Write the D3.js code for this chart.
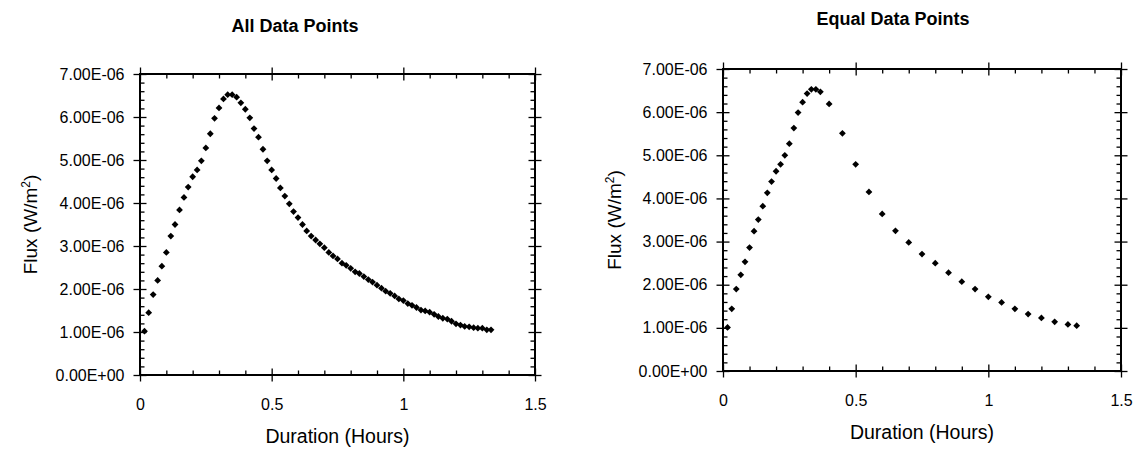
<!DOCTYPE html>
<html><head><meta charset="utf-8">
<script src="https://cdn.jsdelivr.net/npm/d3@7"></script>
<style>
body{margin:0;background:#fff}
svg{display:block}
text{font-family:"Liberation Sans",Arial,sans-serif;fill:#000}
</style>
</head><body>
<svg id="c" width="1142" height="452"></svg>
<script>
// Duration in hours, flux in units of 1E-06 W/m2
const allDuration = [0.017,0.033,0.050,0.067,0.083,0.100,0.117,0.133,0.150,0.167,0.183,0.200,0.217,0.233,0.250,0.267,0.283,0.300,0.317,0.333,0.350,0.367,0.383,0.400,0.417,0.433,0.450,0.467,0.483,0.500,0.517,0.533,0.550,0.567,0.583,0.600,0.617,0.633,0.650,0.667,0.683,0.700,0.717,0.733,0.750,0.767,0.783,0.800,0.817,0.833,0.850,0.867,0.883,0.900,0.917,0.933,0.950,0.967,0.983,1.000,1.017,1.033,1.050,1.067,1.083,1.100,1.117,1.133,1.150,1.167,1.183,1.200,1.217,1.233,1.250,1.267,1.283,1.300,1.317,1.333];
const allFlux = [1.02,1.45,1.87,2.20,2.53,2.85,3.23,3.50,3.84,4.13,4.37,4.61,4.77,4.98,5.28,5.61,5.97,6.21,6.42,6.52,6.52,6.46,6.33,6.18,5.98,5.73,5.53,5.25,4.98,4.77,4.57,4.35,4.16,3.98,3.80,3.66,3.50,3.35,3.23,3.14,3.05,2.96,2.85,2.77,2.70,2.60,2.55,2.48,2.40,2.36,2.29,2.22,2.16,2.09,2.02,1.95,1.90,1.84,1.77,1.73,1.66,1.62,1.57,1.51,1.49,1.46,1.41,1.36,1.32,1.30,1.25,1.19,1.16,1.13,1.12,1.10,1.09,1.09,1.05,1.05];
const equalDuration = [0.017,0.033,0.050,0.067,0.083,0.100,0.117,0.133,0.150,0.167,0.183,0.200,0.217,0.233,0.250,0.267,0.283,0.300,0.317,0.333,0.350,0.367,0.400,0.450,0.500,0.550,0.600,0.650,0.700,0.750,0.800,0.850,0.900,0.950,1.000,1.050,1.100,1.150,1.200,1.250,1.300,1.333];
const equalFlux = [1.01,1.44,1.90,2.23,2.53,2.86,3.24,3.51,3.82,4.13,4.39,4.63,4.79,5.00,5.27,5.63,5.99,6.23,6.43,6.53,6.53,6.47,6.19,5.51,4.79,4.15,3.64,3.25,2.98,2.71,2.50,2.28,2.07,1.90,1.72,1.59,1.44,1.32,1.23,1.14,1.08,1.05];

const xMajor = [0,0.5,1,1.5];
const xTickLabels = ["0","0.5","1","1.5"];
const xMinor = [0.1,0.2,0.3,0.4,0.6,0.7,0.8,0.9,1.1,1.2,1.3,1.4];
const yMajor = [0,1,2,3,4,5,6,7];
const yTickLabels = ["0.00E+00","1.00E-06","2.00E-06","3.00E-06","4.00E-06","5.00E-06","6.00E-06","7.00E-06"];
const yMinor = [0.2,0.4,0.6,0.8,1.2,1.4,1.6,1.8,2.2,2.4,2.6,2.8,3.2,3.4,3.6,3.8,4.2,4.4,4.6,4.8,5.2,5.4,5.6,5.8,6.2,6.4,6.6,6.8];
const titles = ["All Data Points","Equal Data Points"];
const xTitle = "Duration (Hours)";

const svg = d3.select("#c");

function panel(cfg){
  const g = svg.append("g");
  const x = d3.scaleLinear().domain([0,1.5]).range([cfg.x0,cfg.x1]);
  const y = d3.scaleLinear().domain([0,7]).range([cfg.y1,cfg.y0]);
  const MAJ=6.5, MIN=4.5;
  const style = sel => { sel.attr("font-size",null).attr("font-family",null);
    sel.selectAll("line").attr("stroke","#000").attr("stroke-width",1.3);
    sel.select(".domain").remove();
    sel.selectAll("text").style("font-size","16px").attr("fill","#000"); };
  // bottom: outer major + labels
  g.append("g").attr("transform",`translate(0,${cfg.y1})`)
    .call(d3.axisBottom(x).tickValues(xMajor).tickFormat((d,i)=>xTickLabels[i]).tickSize(MAJ).tickPadding(17.5)).call(style);
  g.append("g").attr("transform",`translate(0,${cfg.y1})`).call(d3.axisTop(x).tickValues(xMajor).tickFormat("").tickSize(MAJ)).call(style);
  g.append("g").attr("transform",`translate(0,${cfg.y1})`).call(d3.axisTop(x).tickValues(xMinor).tickFormat("").tickSize(MIN)).call(style);
  // top
  g.append("g").attr("transform",`translate(0,${cfg.y0})`).call(d3.axisTop(x).tickValues(xMajor).tickFormat("").tickSize(MAJ)).call(style);
  g.append("g").attr("transform",`translate(0,${cfg.y0})`).call(d3.axisBottom(x).tickValues(xMajor).tickFormat("").tickSize(MAJ)).call(style);
  g.append("g").attr("transform",`translate(0,${cfg.y0})`).call(d3.axisBottom(x).tickValues(xMinor).tickFormat("").tickSize(MIN)).call(style);
  // left
  g.append("g").attr("transform",`translate(${cfg.x0},0)`)
    .call(d3.axisLeft(y).tickValues(yMajor).tickFormat((d,i)=>yTickLabels[i]).tickSize(MAJ).tickPadding(9)).call(style);
  g.append("g").attr("transform",`translate(${cfg.x0},0)`).call(d3.axisRight(y).tickValues(yMajor).tickFormat("").tickSize(MAJ)).call(style);
  g.append("g").attr("transform",`translate(${cfg.x0},0)`).call(d3.axisRight(y).tickValues(yMinor).tickFormat("").tickSize(MIN)).call(style);
  // right
  g.append("g").attr("transform",`translate(${cfg.x1},0)`).call(d3.axisRight(y).tickValues(yMajor).tickFormat("").tickSize(MAJ)).call(style);
  g.append("g").attr("transform",`translate(${cfg.x1},0)`).call(d3.axisLeft(y).tickValues(yMajor).tickFormat("").tickSize(MAJ)).call(style);
  g.append("g").attr("transform",`translate(${cfg.x1},0)`).call(d3.axisLeft(y).tickValues(yMinor).tickFormat("").tickSize(MIN)).call(style);
  // frame
  g.append("rect").attr("x",cfg.x0).attr("y",cfg.y0).attr("width",cfg.x1-cfg.x0).attr("height",cfg.y1-cfg.y0)
    .attr("fill","none").attr("stroke","#000").attr("stroke-width",2);
  // points
  const r = 3.4;
  g.append("g").selectAll("path").data(cfg.dur.map((d,i)=>[d,cfg.flux[i]])).join("path")
    .attr("d",`M0,${-r}L${r},0L0,${r}L${-r},0Z`)
    .attr("transform",d=>`translate(${x(d[0])},${y(d[1])})`)
    .attr("fill","#000");
  // title
  g.append("text").attr("x",cfg.tx).attr("y",cfg.ty).attr("text-anchor","middle")
    .style("font-size","18px").style("font-weight","bold").text(cfg.title);
  // x axis title
  g.append("text").attr("x",(cfg.x0+cfg.x1)/2).attr("y",cfg.y1+68).attr("text-anchor","middle")
    .style("font-size","19.5px").text(xTitle);
  // y axis title
  const yt = g.append("text").attr("transform",`translate(${cfg.yx},${(cfg.y0+cfg.y1)/2}) rotate(-90)`)
    .attr("text-anchor","middle").style("font-size","19px");
  yt.append("tspan").text("Flux (W/m");
  yt.append("tspan").attr("baseline-shift","super").style("font-size","12px").text("2");
  yt.append("tspan").text(")");
}

panel({x0:140,x1:535,y0:74,y1:375,dur:allDuration,flux:allFlux,title:titles[0],tx:295,ty:32,yx:37});
panel({x0:723,x1:1121,y0:69,y1:371,dur:equalDuration,flux:equalFlux,title:titles[1],tx:893,ty:25,yx:621});
</script>
</body></html>
